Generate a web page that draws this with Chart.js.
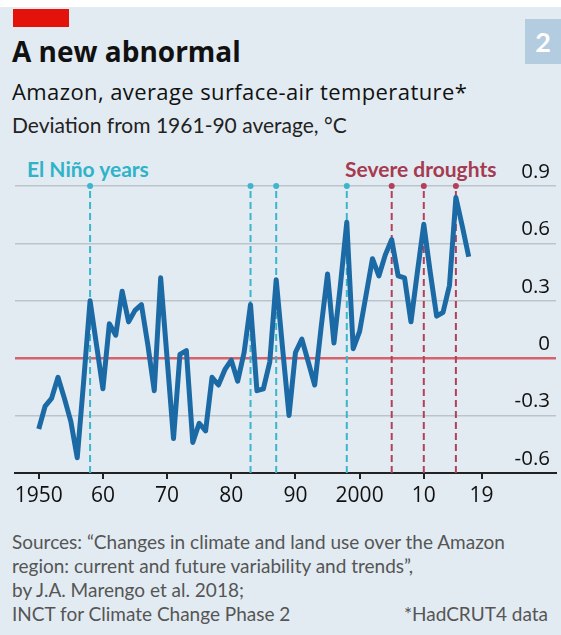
<!DOCTYPE html>
<html>
<head>
<meta charset="utf-8">
<script src="https://cdn.jsdelivr.net/npm/chart.js@4"></script>
<style>
  html, body { margin: 0; padding: 0; background: #fff; }
  #page { position: relative; width: 561px; height: 635px; overflow: hidden; font-family: Lato, "Noto Sans", sans-serif; }
  #bg { position: absolute; left: 0; top: 7px; width: 561px; height: 628px; background: #e2ebf2; }
  #redbar { position: absolute; left: 13px; top: 9px; width: 56px; height: 18px; background: #e3120b; }
  #num { position: absolute; left: 525px; top: 19px; width: 36px; height: 45px; background: #b4cce0; color: #fff; font-weight: 700; font-size: 27px; line-height: 45px; text-align: center; }
  .t { position: absolute; left: 12px; white-space: nowrap; color: #111; }
  #title { top: 32px; font-family: "Open Sans", sans-serif; font-size: 28px; font-weight: 700; }
  #sub { top: 76px; font-family: "Open Sans", sans-serif; font-size: 22px; letter-spacing: 0.4px; }
  #unit { top: 112px; font-size: 21px; color: #222; }
  .lab { position: absolute; top: 156px; font-size: 21px; font-weight: 700; white-space: nowrap; }
  #nino { left: 27px; color: #2fb3c9; }
  #drought { left: 345px; color: #a63a50; }
  #wrap { position: absolute; left: 0; top: 160px; width: 561px; height: 360px; }
  #src { position: absolute; left: 12px; top: 530px; font-size: 19px; line-height: 24px; color: #555; white-space: nowrap; }
  #had { position: absolute; right: 13px; top: 602px; font-size: 19px; line-height: 24px; color: #555; }
</style>
</head>
<body>
<div id="page">
  <div id="bg"></div>
  <div id="redbar"></div>
  <div id="num">2</div>
  <div class="t" id="title">A new abnormal</div>
  <div class="t" id="sub">Amazon, average surface-air temperature*</div>
  <div class="t" id="unit">Deviation from 1961-90 average, °C</div>
  <div class="lab" id="nino">El Niño years</div>
  <div class="lab" id="drought">Severe droughts</div>
  <div id="wrap"><canvas id="chart"></canvas></div>
  <div id="src">Sources: “Changes in climate and land use over the Amazon<br>region: current and future variability and trends”,<br>by J.A. Marengo et al. 2018;<br>INCT for Climate Change Phase 2</div>
  <div id="had">*HadCRUT4 data</div>
</div>
<script>
(() => {
  'use strict';

  // Data
  const years = [
    1950, 1951, 1952, 1953, 1954, 1955, 1956, 1957, 1958, 1959,
    1960, 1961, 1962, 1963, 1964, 1965, 1966, 1967, 1968, 1969,
    1970, 1971, 1972, 1973, 1974, 1975, 1976, 1977, 1978, 1979,
    1980, 1981, 1982, 1983, 1984, 1985, 1986, 1987, 1988, 1989,
    1990, 1991, 1992, 1993, 1994, 1995, 1996, 1997, 1998, 1999,
    2000, 2001, 2002, 2003, 2004, 2005, 2006, 2007, 2008, 2009,
    2010, 2011, 2012, 2013, 2014, 2015, 2016, 2017,
  ];
  const anomaly = [
    -0.37, -0.25, -0.21, -0.10, -0.21, -0.33, -0.52, -0.12, 0.30, 0.07,
    -0.16, 0.18, 0.12, 0.35, 0.19, 0.25, 0.28, 0.07, -0.17, 0.42,
    0.00, -0.42, 0.02, 0.04, -0.44, -0.34, -0.38, -0.10, -0.14, -0.06,
    -0.01, -0.12, 0.03, 0.28, -0.17, -0.16, -0.02, 0.41, 0.05, -0.30,
    0.03, 0.10, -0.02, -0.14, 0.16, 0.44, 0.08, 0.38, 0.71, 0.05,
    0.14, 0.33, 0.52, 0.43, 0.54, 0.62, 0.43, 0.42, 0.19, 0.45,
    0.70, 0.45, 0.22, 0.24, 0.38, 0.84, 0.69, 0.53,
  ];
  const elNinoYears = [1958, 1983, 1987, 1998];
  const droughtYears = [2005, 2010, 2015];
  const xTickYears = [1950, 1960, 1970, 1980, 1990, 2000, 2010, 2019];
  const xTickLabels = ['1950', '60', '70', '80', '90', '2000', '10', '19'];
  const yTicks = [-0.6, -0.3, 0, 0.3, 0.6, 0.9];
  const yTickLabels = ['-0.6', '-0.3', '0', '0.3', '0.6', '0.9'];

  const BLUE = '#1b6aa5';
  const CYAN = '#3bb6cc';
  const RED = '#b3405a';

  const FONT = '"Open Sans", sans-serif';

  // Vertical dashed marker from bottom to top of the scale, with a dot on top
  function marker(year, color) {
    return {
      data: [{ x: year, y: yTicks[0] }, { x: year, y: yTicks[yTicks.length - 1] }],
      borderColor: color,
      backgroundColor: color,
      borderWidth: 2,
      borderDash: [7, 4],
      pointRadius: [0, 3],
      pointBorderWidth: 0,
      clip: false,
      order: 2,
    };
  }

  const datasets = [
    {
      data: years.map((y, i) => ({ x: y, y: anomaly[i] })),
      borderColor: BLUE,
      borderWidth: 5,
      pointRadius: 0,
      borderJoinStyle: 'round',
      tension: 0,
      order: 1,
    },
    ...elNinoYears.map(y => marker(y, CYAN)),
    ...droughtYears.map(y => marker(y, RED)),
  ];

  new Chart(document.getElementById('chart'), {
    type: 'line',
    data: { datasets },
    options: {
      responsive: true,
      maintainAspectRatio: false,
      animation: false,
      layout: { padding: { left: 15, right: 0, top: 26, bottom: 0 } },
      plugins: { legend: { display: false }, tooltip: { enabled: false } },
      scales: {
        x: {
          type: 'linear',
          min: 1946.3,
          max: 2030.6,
          afterBuildTicks: s => { s.ticks = xTickYears.map(v => ({ value: v })); },
          afterFit: s => { s.height = 47; },
          grid: { drawOnChartArea: false, color: '#222', tickLength: 6, lineWidth: 2 },
          border: { color: '#222', width: 2 },
          ticks: {
            autoSkip: false,
            maxRotation: 0,
            padding: 4,
            color: '#111',
            font: { family: FONT, size: 21 },
            callback: v => xTickLabels[xTickYears.indexOf(v)] ?? '',
          },
        },
        y: {
          position: 'right',
          min: -0.6,
          max: 0.9,
          afterBuildTicks: s => { s.ticks = yTicks.map(v => ({ value: v })); },
          afterFit: s => { s.width = 5; },
          border: { display: false },
          grid: {
            drawTicks: false,
            color: c => (c.tick && c.tick.value === 0 ? '#d8626a' : '#bcc4cb'),
            lineWidth: c => (c.tick && c.tick.value === 0 ? 2.5 : 1.5),
          },
          ticks: {
            mirror: true,
            padding: -6,
            labelOffset: -14,
            color: '#111',
            font: { family: FONT, size: 20.5 },
            callback: v => yTickLabels[yTicks.indexOf(v)] ?? '',
          },
        },
      },
    },
  });
})();
</script>
</body>
</html>
